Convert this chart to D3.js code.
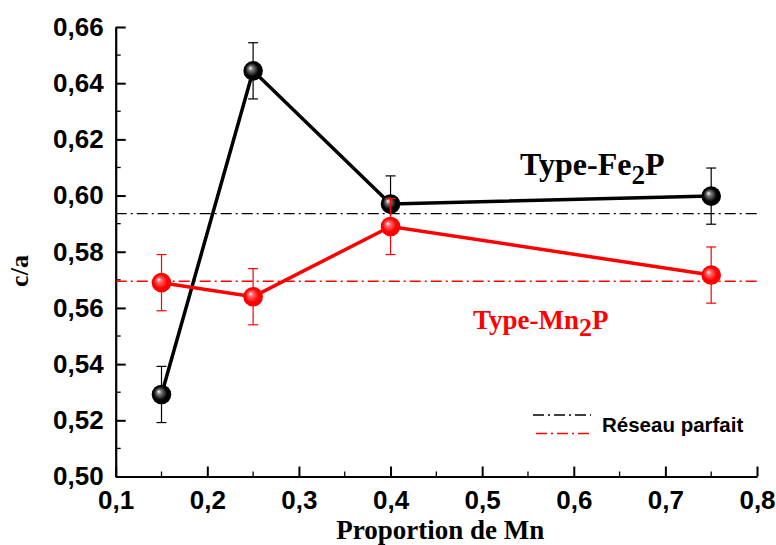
<!DOCTYPE html>
<html>
<head>
<meta charset="utf-8">
<script src="https://cdn.jsdelivr.net/npm/d3@7"></script>
<style>
  body { margin: 0; background: #fff; }
</style>
</head>
<body>
<div id="chart"></div>
<script>
// data
const proportions = [0.15, 0.25, 0.40, 0.75];
const fe2pValues = [0.5292, 0.6444, 0.5970, 0.5998];
const mn2pValues = [0.5690, 0.5640, 0.5890, 0.5717];
const errorHalf = [0.010, 0.010, 0.010, 0.010];
const refFe2p = 0.5936;
const refMn2p = 0.5695;
const xTicks = [0.1, 0.2, 0.3, 0.4, 0.5, 0.6, 0.7, 0.8];
const yTicks = [0.50, 0.52, 0.54, 0.56, 0.58, 0.60, 0.62, 0.64, 0.66];

const width = 776, height = 545;
const margin = { top: 27, right: 19, bottom: 68.5, left: 115.7 };

const svg = d3.select("#chart").append("svg")
    .attr("width", width)
    .attr("height", height);

const x = d3.scaleLinear().domain([0.1, 0.8]).range([margin.left, width - margin.right]);
const y = d3.scaleLinear().domain([0.50, 0.66]).range([height - margin.bottom, margin.top]);

const fmt = d => d3.format(".2f")(d).replace(".", ",");
const fmtX = d => d3.format(".1f")(d).replace(".", ",");
const serif = "'Liberation Serif', 'Times New Roman', serif";
const sans = "'Liberation Sans', Arial, sans-serif";

// gradients for the ball markers
const defs = svg.append("defs");
function ballGradient(id, dark, mid) {
    const g = defs.append("radialGradient")
        .attr("id", id)
        .attr("cx", "0.5").attr("cy", "0.5").attr("r", "0.55")
        .attr("fx", "0.35").attr("fy", "0.35");
    g.append("stop").attr("offset", "0%").attr("stop-color", "#ffffff");
    g.append("stop").attr("offset", "20%").attr("stop-color", mid);
    g.append("stop").attr("offset", "62%").attr("stop-color", dark);
    g.append("stop").attr("offset", "100%").attr("stop-color", dark);
}
ballGradient("ballBlack", "#000000", "#808080");
ballGradient("ballRed", "#ff0000", "#ff7070");

// axes
const xAxis = svg.append("g")
    .attr("transform", `translate(0,${height - margin.bottom})`)
    .call(d3.axisBottom(x).tickValues(xTicks).tickFormat(fmtX).tickSizeInner(-10).tickSizeOuter(0).tickPadding(14));
const yAxis = svg.append("g")
    .attr("transform", `translate(${margin.left},0)`)
    .call(d3.axisLeft(y).tickValues(yTicks).tickFormat(fmt).tickSizeInner(-10).tickSizeOuter(0).tickPadding(12));

// minor ticks
svg.append("g").selectAll("line")
    .data(d3.range(0.15, 0.8, 0.1))
    .join("line")
    .attr("x1", d => x(d)).attr("x2", d => x(d))
    .attr("y1", height - margin.bottom).attr("y2", height - margin.bottom - 5)
    .attr("stroke", "#000").attr("stroke-width", 1.3);
svg.append("g").selectAll("line")
    .data(d3.range(0.51, 0.66, 0.02))
    .join("line")
    .attr("x1", margin.left).attr("x2", margin.left + 5)
    .attr("y1", d => y(d)).attr("y2", d => y(d))
    .attr("stroke", "#000").attr("stroke-width", 1.3);

[xAxis, yAxis].forEach(a => {
    a.select(".domain").attr("stroke-width", 2.2);
    a.selectAll(".tick line").attr("stroke-width", 2);
    a.selectAll(".tick text")
        .style("font-family", sans)
        .style("font-weight", "bold")
        .style("font-size", "26px")
        .attr("fill", "#000");
});

// axis titles
svg.append("text")
    .attr("x", x(0.45) + 4).attr("y", 539)
    .attr("text-anchor", "middle")
    .style("font-family", serif)
    .style("font-weight", "bold").style("font-size", "27px")
    .text("Proportion de Mn");
svg.append("text")
    .attr("transform", `translate(28,271) rotate(-90)`)
    .attr("text-anchor", "middle")
    .style("font-family", serif)
    .style("font-weight", "bold").style("font-size", "26px")
    .text("c/a");

// reference lines
const dashDot = "11,4,2,4";
svg.append("line")
    .attr("x1", x(0.1)).attr("x2", x(0.8))
    .attr("y1", y(refFe2p)).attr("y2", y(refFe2p))
    .attr("stroke", "#000").attr("stroke-width", 1.3).attr("stroke-dasharray", dashDot);
svg.append("line")
    .attr("x1", x(0.1)).attr("x2", x(0.8))
    .attr("y1", y(refMn2p)).attr("y2", y(refMn2p))
    .attr("stroke", "#ff0000").attr("stroke-width", 1.3).attr("stroke-dasharray", dashDot);

function drawSeries(values, color, gradId) {
    const pts = proportions.map((p, i) => ({ p: p, v: values[i], e: errorHalf[i] }));
    const g = svg.append("g");
    // error bars
    const eb = g.selectAll(".err").data(pts).join("g");
    eb.append("line")
        .attr("x1", d => x(d.p)).attr("x2", d => x(d.p))
        .attr("y1", d => y(d.v - d.e)).attr("y2", d => y(d.v + d.e))
        .attr("stroke", color).attr("stroke-width", 1.2);
    [-1, 1].forEach(s => {
        eb.append("line")
            .attr("x1", d => x(d.p) - 5).attr("x2", d => x(d.p) + 5)
            .attr("y1", d => y(d.v + s * d.e)).attr("y2", d => y(d.v + s * d.e))
            .attr("stroke", color).attr("stroke-width", 1.2);
    });
    g.append("path")
        .datum(pts)
        .attr("fill", "none")
        .attr("stroke", color)
        .attr("stroke-width", 3.5)
        .attr("d", d3.line().x(d => x(d.p)).y(d => y(d.v)));
    g.selectAll("circle").data(pts).join("circle")
        .attr("cx", d => x(d.p)).attr("cy", d => y(d.v))
        .attr("r", 9.8)
        .attr("fill", `url(#${gradId})`);
}
drawSeries(fe2pValues, "#000", "ballBlack");
drawSeries(mn2pValues, "#ff0000", "ballRed");

// series labels
const fe = svg.append("text")
    .attr("x", 520).attr("y", 175)
    .style("font-family", serif)
    .style("font-weight", "bold").style("font-size", "32px")
    .attr("fill", "#000");
fe.append("tspan").text("Type-Fe");
fe.append("tspan").attr("dy", 9).style("font-size", "27px").text("2");
fe.append("tspan").attr("dy", -9).text("P");

const mn = svg.append("text")
    .attr("x", 473).attr("y", 329)
    .style("font-family", serif)
    .style("font-weight", "bold").style("font-size", "27px")
    .attr("fill", "#ff0000");
mn.append("tspan").text("Type-Mn");
mn.append("tspan").attr("dy", 7).style("font-size", "26px").text("2");
mn.append("tspan").attr("dy", -7).text("P");

// legend
const legend = svg.append("g");
legend.append("line")
    .attr("x1", 533).attr("x2", 591).attr("y1", 415).attr("y2", 415)
    .attr("stroke", "#000").attr("stroke-width", 1.3).attr("stroke-dasharray", dashDot);
legend.append("line")
    .attr("x1", 536).attr("x2", 593).attr("y1", 433.5).attr("y2", 433.5)
    .attr("stroke", "#ff0000").attr("stroke-width", 1.3).attr("stroke-dasharray", dashDot);
legend.append("text")
    .attr("x", 602).attr("y", 431.5)
    .style("font-family", sans)
    .style("font-weight", "bold").style("font-size", "20.5px")
    .text("Réseau parfait");
</script>
</body>
</html>
